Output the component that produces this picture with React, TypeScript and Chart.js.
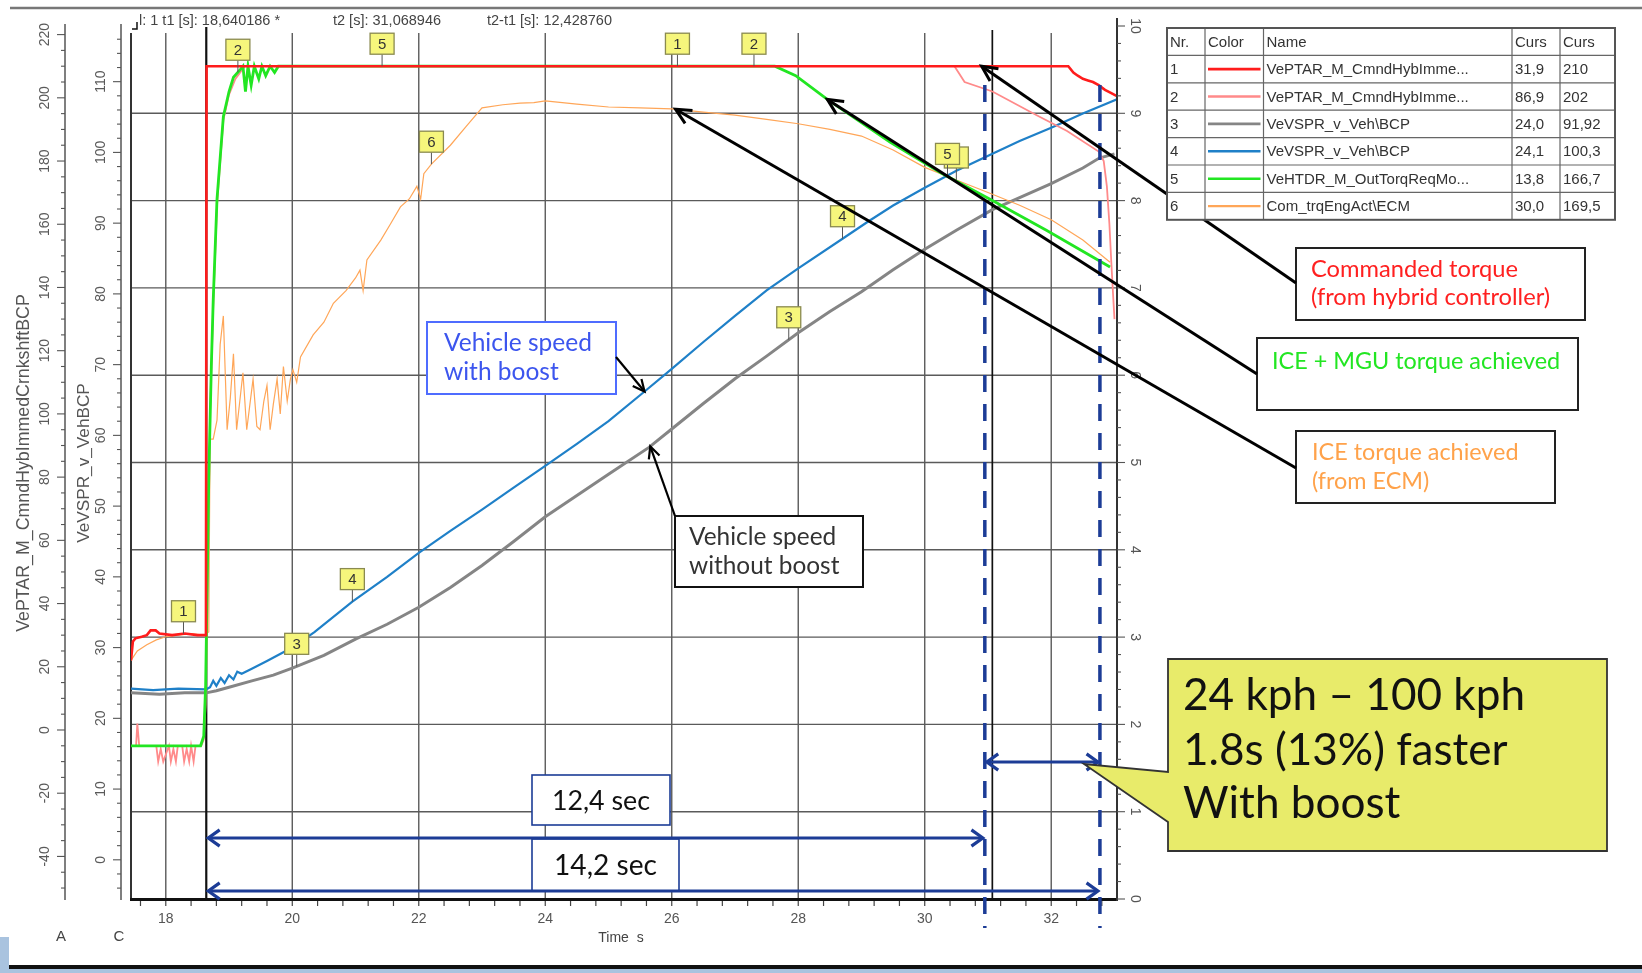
import React, { useEffect, useRef } from "react";
import { Chart, registerables } from "chart.js";

Chart.register(...registerables);

const W = 1642;
const H = 973;

// ---------------- data: [time s, value] ----------------
// 1  VePTAR_M_CmndHybImme... (commanded torque, axis A)
const cmdTorque: number[][] = [
  [17.45, 22], [17.48, 28], [17.52, 29], [17.62, 29.5], [17.7, 30], [17.76, 31.5], [17.84, 31.5], [17.9, 30.5],
  [18.1, 30], [18.3, 30.5], [18.5, 30], [18.635, 30], [18.645, 210], [20, 210], [22, 210], [24, 210], [26, 210],
  [28, 210], [30, 210], [32.27, 210], [32.35, 208], [32.42, 207], [32.5, 206], [32.58, 205.5], [32.66, 205],
  [32.75, 204], [32.85, 202.5], [32.95, 201.5], [33.04, 200.5],
];
// 2  VePTAR_M_CmndHybImme... (second, pink, axis A)
const cmdTorque2: number[][] = [
  [17.45, -5], [17.53, -5], [17.55, 2], [17.58, -5], [17.85, -5], [17.88, -10], [17.92, -6], [17.96, -10],
  [18.05, -5], [18.08, -10], [18.12, -6], [18.16, -10], [18.19, -5], [18.26, -5], [18.29, -10], [18.33, -6],
  [18.37, -10], [18.4, -5], [18.44, -10], [18.47, -5], [18.56, -5], [18.6, -3], [18.63, 8], [18.66, 40],
  [18.7, 100], [18.75, 134], [18.81, 166], [18.91, 193], [19.0, 201], [19.1, 206], [19.25, 210], [30.47, 210],
  [30.63, 205], [31.07, 202], [31.77, 194.5], [32.25, 189.5], [32.75, 183], [32.83, 180], [32.88, 172], [32.92, 160],
  [32.95, 148], [32.98, 137], [33.0, 130],
];
// 3  VeVSPR_v_Veh\BCP  (vehicle speed without boost, axis C)
const speedNoBoost: number[][] = [
  [17.45, 23.6], [17.9, 23.4], [18.3, 23.6], [18.64, 23.6], [18.8, 23.9], [19.0, 24.4], [19.36, 25.3], [19.7, 26.1],
  [20.0, 27.1], [20.5, 28.9], [21.0, 31.2], [21.5, 33.3], [22.0, 35.7], [22.5, 38.5], [23.0, 41.6], [23.5, 45.0],
  [24.0, 48.5], [24.5, 51.5], [25.0, 54.5], [25.64, 58.3], [26.0, 60.9], [26.5, 64.5], [27.0, 68.0], [27.5, 71.2],
  [28.0, 74.5], [28.5, 77.5], [29.0, 80.3], [29.5, 83.4], [30.0, 86.3], [30.5, 89.0], [31.07, 91.9], [31.5, 93.6],
  [32.0, 95.6], [32.5, 97.8], [32.76, 99.2], [33.0, 99.8],
];
// 4  VeVSPR_v_Veh\BCP  (vehicle speed with boost, axis C)
const speedBoost: number[][] = [
  [17.45, 24.2], [17.8, 24.0], [18.2, 24.2], [18.64, 24.1], [18.7, 24.4], [18.75, 25.3], [18.8, 24.6], [18.87, 25.7],
  [18.93, 25.0], [19.0, 26.1], [19.07, 25.5], [19.13, 26.6], [19.2, 26.3], [19.36, 27.0], [19.6, 28.1], [20.0, 30.0],
  [20.35, 32.2], [20.95, 36.5], [21.5, 40.0], [22.0, 43.4], [22.5, 46.5], [23.0, 49.5], [23.5, 52.6], [24.0, 55.7],
  [24.5, 58.8], [25.0, 62.0], [25.57, 66.2], [26.0, 69.4], [26.5, 73.2], [27.0, 76.9], [27.5, 80.5], [28.0, 83.6],
  [28.7, 87.8], [29.1, 90.2], [29.5, 92.5], [30.0, 95.0], [30.5, 97.4], [31.07, 99.8], [31.5, 101.6], [32.0, 103.5],
  [32.5, 105.5], [33.04, 107.5],
];
// 5  VeHTDR_M_OutTorqReqMo... (ICE + MGU torque, axis A)
const outTorque: number[][] = [
  [17.45, -5], [18.0, -5], [18.55, -5], [18.6, -2], [18.63, 14], [18.65, 40], [18.68, 80], [18.72, 115], [18.75, 136],
  [18.81, 168], [18.91, 194], [19.0, 202], [19.07, 206.5], [19.18, 209], [19.22, 210], [19.26, 202], [19.3, 210],
  [19.35, 204], [19.4, 210], [19.47, 206], [19.52, 210], [19.58, 207], [19.65, 210], [19.72, 208], [19.78, 210],
  [24, 210], [27.63, 210], [27.96, 207], [28.46, 199.5], [29.45, 186], [30.28, 176], [31.07, 167.5], [31.93, 158],
  [32.93, 146.5],
];
// 6  Com_trqEngAct\ECM (ICE torque, axis A)
const engTorque: number[][] = [
  [17.45, 22], [17.55, 25], [17.7, 27], [17.85, 28.5], [18.0, 29.5], [18.2, 30], [18.4, 30.5], [18.6, 30], [18.68, 31],
  [18.7, 92], [18.75, 92], [18.81, 98], [18.86, 122], [18.91, 131], [18.97, 95], [19.02, 105], [19.07, 119],
  [19.12, 95], [19.17, 104], [19.22, 113], [19.28, 95], [19.33, 103], [19.38, 111], [19.44, 96], [19.49, 95],
  [19.55, 104], [19.6, 109], [19.65, 95], [19.7, 103], [19.76, 111], [19.81, 100], [19.86, 115], [19.92, 104],
  [19.97, 111], [20.01, 114], [20.07, 110], [20.13, 118], [20.33, 125], [20.5, 129], [20.65, 135], [20.85, 139],
  [21.0, 143], [21.07, 145.5], [21.12, 139], [21.18, 148.7], [21.4, 155], [21.55, 160], [21.71, 165.5], [21.85, 168],
  [21.97, 172], [22.03, 168], [22.08, 176], [22.2, 179], [22.5, 185], [22.75, 191], [23.0, 196.8], [23.33, 197.8],
  [23.6, 198.3], [23.82, 198.5], [24.0, 199], [24.5, 198], [25.0, 197.1], [25.5, 196.8], [26.0, 196.5], [26.5, 195.5],
  [27.0, 194.5], [27.5, 193.2], [28.0, 191.8], [28.5, 190], [29.0, 187.9], [29.5, 183.5], [30.0, 178], [30.5, 174],
  [31.07, 169.5], [31.5, 166], [32.0, 161.4], [32.5, 155], [32.93, 148],
];

const cursorTimes = [18.640186, 31.068946];
const refTimes = [30.95, 32.77];

const xTickLabels = [18, 20, 22, 24, 26, 28, 30, 32];
const axisATicks = [-40, -20, 0, 20, 40, 60, 80, 100, 120, 140, 160, 180, 200, 220];
const axisCTicks = [0, 10, 20, 30, 40, 50, 60, 70, 80, 90, 100, 110];
const axisRTicks = [0, 1, 2, 3, 4, 5, 6, 7, 8, 9, 10];

const legendNr = ["1", "2", "3", "4", "5", "6"];
const legendNames = [
  "VePTAR_M_CmndHybImme...",
  "VePTAR_M_CmndHybImme...",
  "VeVSPR_v_Veh\\BCP",
  "VeVSPR_v_Veh\\BCP",
  "VeHTDR_M_OutTorqReqMo...",
  "Com_trqEngAct\\ECM",
];
const legendCurs1 = ["31,9", "86,9", "24,0", "24,1", "13,8", "30,0"];
const legendCurs2 = ["210", "202", "91,92", "100,3", "166,7", "169,5"];

const markerLabels = ["6", "1", "2", "5", "1", "2", "6", "3", "4", "3", "4", "5"];
const markerSeries = [5, 0, 4, 4, 0, 1, 5, 2, 3, 2, 3, 4];
const markerTimes = [30.5, 18.28, 19.14, 21.42, 26.09, 27.3, 22.2, 20.07, 20.95, 27.85, 28.7, 30.36];

// ---------------- styles / layout ----------------
const seriesData = [cmdTorque, cmdTorque2, speedNoBoost, speedBoost, outTorque, engTorque];
const seriesAxis = ["yA", "yA", "yC", "yC", "yA", "yA"];
const seriesColor = ["#ff1c1c", "#ff8a8a", "#858585", "#1f80c8", "#22e622", "#ffa658"];
const seriesWidth = [2.6, 1.8, 3, 2.2, 2.8, 1.2];
const seriesOrder = [0, 2, 5, 4, 1, 3];

const GRID_TOP = 33;
const NAVY = "#1c3c96";
const SANS = '"Liberation Sans", Arial, sans-serif';
const CAL = 'Lato, "Open Sans", sans-serif';

const callouts = [
  { lines: ["Commanded torque", "(from hybrid controller)"], color: "#ff2020", border: "#222", box: [1296, 248, 1585, 320], x: 1311, ys: [269, 297], w: 207, from: [1296, 283], series: 0, t: 30.9, lw: 3 },
  { lines: ["ICE + MGU torque achieved"], color: "#22e622", border: "#222", box: [1257, 338, 1578, 410], x: 1272, ys: [361], w: 288, from: [1257, 374], series: 4, t: 28.46, lw: 3 },
  { lines: ["ICE torque achieved", "(from ECM)"], color: "#ffa24a", border: "#222", box: [1296, 431, 1555, 503], x: 1312, ys: [452, 481], w: 207, from: [1296, 468], series: 5, t: 26.06, lw: 3 },
  { lines: ["Vehicle speed", "with boost"], color: "#3c55ee", border: "#4f6cff", box: [427, 322, 616, 394], x: 444, ys: [343, 372], w: 148, from: [616, 357], series: 3, t: 25.57, lw: 2.2 },
  { lines: ["Vehicle speed", "without boost"], color: "#333", border: "#111", box: [675, 516, 863, 587], x: 689, ys: [537, 566], w: 147, from: [675, 516], series: 2, t: 25.66, lw: 2.2 },
];

const spanArrows = [
  { t0: cursorTimes[0], t1: refTimes[0], y: 838 },
  { t0: cursorTimes[0], t1: refTimes[1], y: 891 },
  { t0: refTimes[0], t1: refTimes[1], y: 762 },
];
const spanLabels = [
  { text: "12,4 sec", box: [532, 775, 670, 825], w: 98 },
  { text: "14,2 sec", box: [532, 839, 679, 891], w: 103 },
];

const bigNote = {
  lines: ["24 kph \u2013 100 kph", "1.8s (13%) faster", "With boost"],
  box: [1168, 659, 1607, 851],
  tip: [1084, 764],
  ptrTop: 772,
  ptrBot: 822,
  x: 1183,
  ys: [696, 751, 804],
  w: 342,
};

const tableCols = [1167, 1205, 1263.5, 1512, 1560, 1615];
const tableTop = 28;
const tableRowH = 27.4;

// ---------------- helpers ----------------
function valueAt(s: number[][], t: number) {
  if (t <= s[0][0]) return s[0][1];
  for (let i = 1; i < s.length; i++) {
    if (t <= s[i][0]) {
      const [t0, v0] = s[i - 1];
      const [t1, v1] = s[i];
      return v0 + ((v1 - v0) * (t - t0)) / (t1 - t0);
    }
  }
  return s[s.length - 1][1];
}
function seg(ctx: CanvasRenderingContext2D, x1: number, y1: number, x2: number, y2: number) {
  ctx.beginPath();
  ctx.moveTo(x1, y1);
  ctx.lineTo(x2, y2);
  ctx.stroke();
}
function chevron(ctx: CanvasRenderingContext2D, tx: number, ty: number, fx: number, fy: number, len: number, spread: number) {
  const a = Math.atan2(fy - ty, fx - tx);
  ctx.beginPath();
  ctx.moveTo(tx + len * Math.cos(a + spread), ty + len * Math.sin(a + spread));
  ctx.lineTo(tx, ty);
  ctx.lineTo(tx + len * Math.cos(a - spread), ty + len * Math.sin(a - spread));
  ctx.stroke();
}
function txt(ctx: CanvasRenderingContext2D, s: string, x: number, y: number, font: string, color: string, align: CanvasTextAlign = "left", rot = 0) {
  ctx.save();
  ctx.translate(x, y);
  ctx.rotate(rot);
  ctx.font = font;
  ctx.fillStyle = color;
  ctx.textAlign = align;
  ctx.textBaseline = "middle";
  ctx.fillText(s, 0, 0);
  ctx.restore();
}
function fitSize(ctx: CanvasRenderingContext2D, s: string, family: string, weight: string, width: number) {
  ctx.font = `${weight} 100px ${family}`;
  return (100 * width) / ctx.measureText(s).width;
}
function fmt(v: number) {
  return v.toFixed(6).replace(".", ",");
}

const overlay = {
  id: "overlay",
  beforeDraw(chart: any) {
    const ctx = chart.ctx as CanvasRenderingContext2D;
    ctx.save();
    ctx.fillStyle = "#fff";
    ctx.fillRect(0, 0, W, H);
    ctx.restore();
  },
  beforeDatasetsDraw(chart: any) {
    const ctx = chart.ctx as CanvasRenderingContext2D;
    const ca = chart.chartArea;
    const X = chart.scales.x;
    const R = chart.scales.yR;
    ctx.save();
    ctx.strokeStyle = "#5a5a5a";
    ctx.lineWidth = 1.4;
    axisRTicks.forEach((v) => {
      if (v <= 0 || v >= 10) return;
      const y = R.getPixelForValue(v);
      seg(ctx, ca.left, y, ca.right, y);
    });
    xTickLabels.forEach((t) => {
      const x = X.getPixelForValue(t);
      seg(ctx, x, GRID_TOP, x, ca.bottom);
    });
    ctx.strokeStyle = "#333";
    ctx.lineWidth = 2;
    seg(ctx, ca.left, GRID_TOP, ca.left, ca.bottom);
    ctx.strokeStyle = "#111";
    ctx.lineWidth = 2.2;
    const c1 = X.getPixelForValue(cursorTimes[0]);
    seg(ctx, c1, 27, c1, ca.bottom);
    ctx.lineWidth = 1.7;
    const c2 = X.getPixelForValue(cursorTimes[1]);
    seg(ctx, c2, 30, c2, ca.bottom);
    ctx.restore();
  },
  afterDatasetsDraw(chart: any) {
    const ctx = chart.ctx as CanvasRenderingContext2D;
    const ca = chart.chartArea;
    const sc = chart.scales;
    const X = sc.x, A = sc.yA, C = sc.yC, R = sc.yR;
    ctx.save();
    ctx.lineCap = "butt";

    // ---- x axis ----
    ctx.strokeStyle = "#111";
    ctx.lineWidth = 3;
    seg(ctx, ca.left - 1, ca.bottom + 0.5, ca.right, ca.bottom + 0.5);
    ctx.strokeStyle = "#444";
    ctx.lineWidth = 1.2;
    for (let k = 0; k < 40; k++) {
      const t = 17.6 + 0.4 * k;
      if (t > 33.02) break;
      const x = X.getPixelForValue(t);
      seg(ctx, x, ca.bottom + 2, x, ca.bottom + 7);
    }
    xTickLabels.forEach((t) => txt(ctx, String(t), X.getPixelForValue(t), 919, `14px ${SANS}`, "#555", "center"));
    txt(ctx, "Time  s", 621, 938, `14px ${SANS}`, "#444", "center");
    txt(ctx, "A", 61, 937, `15px ${SANS}`, "#444", "center");
    txt(ctx, "C", 119, 937, `15px ${SANS}`, "#444", "center");

    // ---- right axis ----
    ctx.strokeStyle = "#333";
    ctx.lineWidth = 2;
    seg(ctx, ca.right, 18, ca.right, ca.bottom + 2);
    ctx.lineWidth = 1.1;
    ctx.strokeStyle = "#555";
    for (let k = 0; k <= 50; k++) {
      const v = k * 0.2;
      const y = R.getPixelForValue(v);
      seg(ctx, ca.right, y, ca.right + (k % 5 === 0 ? 8 : 4), y);
    }
    axisRTicks.forEach((v) => txt(ctx, String(v), ca.right + 18, R.getPixelForValue(v), `14px ${SANS}`, "#555", "center", Math.PI / 2));

    // ---- left axis A ----
    const ax = 65;
    ctx.strokeStyle = "#555";
    ctx.lineWidth = 1.5;
    seg(ctx, ax, 24, ax, ca.bottom + 1);
    ctx.lineWidth = 1.1;
    for (let v = -50; v <= 220; v += 5) {
      const y = A.getPixelForValue(v);
      seg(ctx, ax - (v % 20 === 0 ? 8 : 4), y, ax, y);
    }
    axisATicks.forEach((v) => txt(ctx, String(v), 45, A.getPixelForValue(v), `14px ${SANS}`, "#5a5a5a", "center", -Math.PI / 2));
    // ---- left axis C ----
    const cx = 121;
    ctx.lineWidth = 1.5;
    seg(ctx, cx, 24, cx, ca.bottom + 1);
    ctx.lineWidth = 1.1;
    for (let v = -4; v <= 116; v += 2) {
      const y = C.getPixelForValue(v);
      seg(ctx, cx - (v % 10 === 0 ? 8 : 4), y, cx, y);
    }
    axisCTicks.forEach((v) => txt(ctx, String(v), 101, C.getPixelForValue(v), `14px ${SANS}`, "#5a5a5a", "center", -Math.PI / 2));
    // axis titles
    const tA = "VePTAR_M_CmndHybImmedCrnkshftBCP";
    txt(ctx, tA, 24, 463, `${fitSize(ctx, tA, SANS, "normal", 338).toFixed(1)}px ${SANS}`, "#555", "center", -Math.PI / 2);
    const tC = "VeVSPR_v_VehBCP";
    txt(ctx, tC, 84, 463, `${fitSize(ctx, tC, SANS, "normal", 160).toFixed(1)}px ${SANS}`, "#555", "center", -Math.PI / 2);

    // ---- top line & cursor readout ----
    ctx.strokeStyle = "#777";
    ctx.lineWidth = 2.5;
    seg(ctx, 10, 8, W, 8);
    ctx.strokeStyle = "#111";
    ctx.lineWidth = 1.5;
    ctx.beginPath();
    ctx.moveTo(132, 29);
    ctx.lineTo(137, 29);
    ctx.lineTo(137, 22);
    ctx.stroke();
    const f14 = `14.5px ${SANS}`;
    txt(ctx, `l: 1 t1 [s]: ${fmt(cursorTimes[0])} *`, 139, 21, f14, "#444");
    txt(ctx, `t2 [s]: ${fmt(cursorTimes[1])}`, 333, 21, f14, "#444");
    txt(ctx, `t2-t1 [s]: ${fmt(cursorTimes[1] - cursorTimes[0])}`, 487, 21, f14, "#444");

    // ---- markers ----
    markerLabels.forEach((lab, i) => {
      const si = markerSeries[i];
      const t = markerTimes[i];
      const x = X.getPixelForValue(t);
      const y = sc[seriesAxis[si]].getPixelForValue(valueAt(seriesData[si], t));
      const bw = 24, bh = 21, gap = 12;
      const top = y - gap - bh;
      ctx.strokeStyle = "#555";
      ctx.lineWidth = 1;
      seg(ctx, x, top + bh, x, y);
      ctx.fillStyle = "#f6f67c";
      ctx.fillRect(x - bw / 2, top, bw, bh);
      ctx.strokeStyle = "#8a8a50";
      ctx.lineWidth = 1.3;
      ctx.strokeRect(x - bw / 2, top, bw, bh);
      txt(ctx, lab, x, top + bh / 2 + 1, `15px ${SANS}`, "#333", "center");
    });

    // ---- dashed reference lines ----
    ctx.strokeStyle = NAVY;
    ctx.lineWidth = 3.5;
    ctx.setLineDash([17, 12]);
    refTimes.forEach((t) => {
      const x = X.getPixelForValue(t);
      seg(ctx, x, 85, x, 928);
    });
    ctx.setLineDash([]);

    // ---- span arrows ----
    spanLabels.forEach((l) => {
      const [x0, y0, x1, y1] = l.box;
      ctx.fillStyle = "#fff";
      ctx.fillRect(x0, y0, x1 - x0, y1 - y0);
      ctx.strokeStyle = NAVY;
      ctx.lineWidth = 1.6;
      ctx.strokeRect(x0, y0, x1 - x0, y1 - y0);
      const fs = fitSize(ctx, l.text, CAL, "normal", l.w);
      txt(ctx, l.text, (x0 + x1) / 2, (y0 + y1) / 2 + 1, `${fs.toFixed(1)}px ${CAL}`, "#111", "center");
    });
    ctx.strokeStyle = NAVY;
    ctx.lineWidth = 3.2;
    spanArrows.forEach((s) => {
      const xa = X.getPixelForValue(s.t0) + 2;
      const xb = X.getPixelForValue(s.t1) - 2;
      seg(ctx, xa, s.y, xb, s.y);
      chevron(ctx, xa, s.y, xb, s.y, 14, 0.62);
      chevron(ctx, xb, s.y, xa, s.y, 14, 0.62);
    });

    // ---- callouts with arrows ----
    callouts.forEach((c) => {
      const [x0, y0, x1, y1] = c.box;
      ctx.fillStyle = "#fff";
      ctx.fillRect(x0, y0, x1 - x0, y1 - y0);
      ctx.strokeStyle = c.border;
      ctx.lineWidth = 2;
      ctx.strokeRect(x0, y0, x1 - x0, y1 - y0);
      const fs = fitSize(ctx, c.lines[0], CAL, "normal", c.w);
      c.lines.forEach((ln, k) => txt(ctx, ln, c.x, c.ys[k], `${fs.toFixed(1)}px ${CAL}`, c.color));
      const tx = X.getPixelForValue(c.t);
      const ty = sc[seriesAxis[c.series]].getPixelForValue(valueAt(seriesData[c.series], c.t));
      ctx.strokeStyle = "#000";
      ctx.lineWidth = c.lw;
      seg(ctx, c.from[0], c.from[1], tx, ty);
      chevron(ctx, tx, ty, c.from[0], c.from[1], c.lw > 2.5 ? 17 : 13, 0.45);
    });

    // ---- big yellow note ----
    {
      const [x0, y0, x1, y1] = bigNote.box;
      ctx.beginPath();
      ctx.moveTo(x0, y0);
      ctx.lineTo(x1, y0);
      ctx.lineTo(x1, y1);
      ctx.lineTo(x0, y1);
      ctx.lineTo(x0, bigNote.ptrBot);
      ctx.lineTo(bigNote.tip[0], bigNote.tip[1]);
      ctx.lineTo(x0, bigNote.ptrTop);
      ctx.closePath();
      ctx.fillStyle = "#e8eb6a";
      ctx.fill();
      ctx.strokeStyle = "#333";
      ctx.lineWidth = 1.8;
      ctx.stroke();
      const fs = fitSize(ctx, bigNote.lines[0], CAL, "normal", bigNote.w);
      bigNote.lines.forEach((ln, k) => txt(ctx, ln, bigNote.x, bigNote.ys[k], `${fs.toFixed(1)}px ${CAL}`, "#111"));
    }

    // ---- legend table ----
    {
      const rows = 7;
      const top = tableTop;
      const bottom = top + rows * tableRowH;
      const L = tableCols[0], Rr = tableCols[tableCols.length - 1];
      ctx.fillStyle = "#fff";
      ctx.fillRect(L, top, Rr - L, bottom - top);
      ctx.strokeStyle = "#666";
      ctx.lineWidth = 1.2;
      for (let r = 1; r < rows; r++) seg(ctx, L, top + r * tableRowH, Rr, top + r * tableRowH);
      for (let k = 1; k < tableCols.length - 1; k++) seg(ctx, tableCols[k], top, tableCols[k], bottom);
      ctx.strokeStyle = "#555";
      ctx.lineWidth = 2;
      ctx.strokeRect(L, top, Rr - L, bottom - top);
      const tf = `15px ${SANS}`;
      const hdr = ["Nr.", "Color", "Name", "Curs", "Curs"];
      hdr.forEach((h, k) => txt(ctx, h, tableCols[k] + 3, top + tableRowH / 2 + 1, tf, "#333"));
      legendNr.forEach((nr, i) => {
        const cy = top + (i + 1.5) * tableRowH + 1;
        txt(ctx, nr, tableCols[0] + 3, cy, tf, "#333");
        ctx.strokeStyle = seriesColor[i];
        ctx.lineWidth = i === 5 ? 2.4 : 2.6;
        seg(ctx, tableCols[1] + 3, cy - 1, tableCols[2] - 3, cy - 1);
        txt(ctx, legendNames[i], tableCols[2] + 3, cy, tf, "#333");
        txt(ctx, legendCurs1[i], tableCols[3] + 3, cy, tf, "#333");
        txt(ctx, legendCurs2[i], tableCols[4] + 3, cy, tf, "#333");
      });
    }

    // ---- bottom bar ----
    ctx.fillStyle = "#a9c3df";
    ctx.fillRect(0, 937, 9, H - 937);
    ctx.fillRect(0, 969, W, H - 969);
    ctx.strokeStyle = "#111";
    ctx.lineWidth = 4;
    seg(ctx, 9, 967, W, 967);

    ctx.restore();
  },
};

export default function App() {
  const ref = useRef<HTMLCanvasElement>(null);
  useEffect(() => {
    if (!ref.current) return;
    const datasets = seriesData.map((s, i) => ({
      label: legendNames[i],
      data: s.map(([x, y]) => ({ x, y })),
      borderColor: seriesColor[i],
      borderWidth: seriesWidth[i],
      yAxisID: seriesAxis[i],
      pointRadius: 0,
      fill: false,
      tension: 0,
      order: seriesOrder[i],
    }));
    const chart = new Chart(ref.current, {
      type: "line",
      data: { datasets },
      options: {
        responsive: false,
        animation: false,
        devicePixelRatio: 1,
        events: [],
        layout: { padding: { left: 131, top: 26, right: W - 1117, bottom: H - 899 } },
        plugins: { legend: { display: false }, tooltip: { enabled: false }, title: { display: false } },
        scales: {
          x: { type: "linear", min: 17.45, max: 33.04, display: false },
          yA: { type: "linear", position: "left", min: -53.47, max: 222.72, display: false },
          yC: { type: "linear", position: "left", min: -5.54, max: 117.87, display: false },
          yR: { type: "linear", position: "right", min: 0, max: 10, display: false },
        },
      } as any,
      plugins: [overlay],
    });
    return () => chart.destroy();
  }, []);
  return (
    <div style={{ position: "fixed", left: 0, top: 0, width: W, height: H, background: "#fff" }}>
      <canvas ref={ref} width={W} height={H} style={{ display: "block", width: W, height: H }} />
    </div>
  );
}
